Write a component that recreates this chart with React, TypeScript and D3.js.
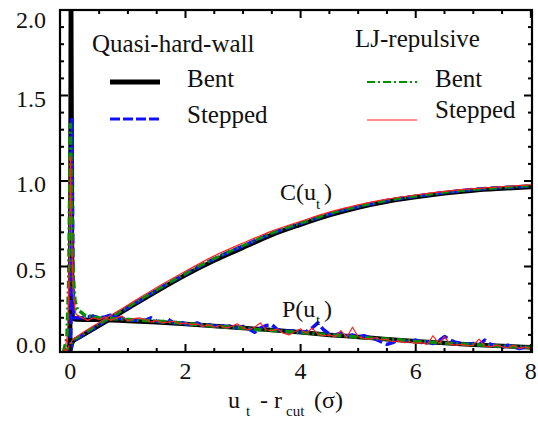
import React from 'react';
import * as d3 from 'd3';

const W = 538, H = 422;
const X0 = 60, X1 = 532, Y0 = 10, Y1 = 352;

// ---------- axis ticks ----------
const xMajorTicks = [0, 2, 4, 6, 8];
const yMajorTicks = [0, 0.5, 1.0, 1.5, 2.0];
const yTickLabels = ['0.0', '0.5', '1.0', '1.5', '2.0'];

// ---------- C(u_t) curves ----------
const blackCU = [-0.04, 0, 0.02, 0.05, 0.1, 0.5, 1, 1.5, 2, 2.5, 3, 3.5, 4, 4.5, 5, 5.5, 6, 6.5, 7, 7.5, 8];
const blackCV = [0, 0.01, 0.04, 0.065, 0.075, 0.155, 0.255, 0.355, 0.45, 0.535, 0.61, 0.685, 0.745, 0.8, 0.845, 0.88, 0.906, 0.928, 0.945, 0.956, 0.965];
const blueCU = [-0.01, 0, 0.02, 0.05, 0.1, 0.5, 1, 1.5, 2, 2.5, 3, 3.5, 4, 4.5, 5, 5.5, 6, 6.5, 7, 7.5, 8];
const blueCV = [0, 0.01, 0.04, 0.065, 0.075, 0.16, 0.26, 0.362, 0.457, 0.545, 0.62, 0.693, 0.752, 0.807, 0.851, 0.886, 0.911, 0.933, 0.95, 0.961, 0.97];
const greenCU = [-0.12, -0.04, 0, 0.05, 0.1, 0.5, 1, 1.5, 2, 2.5, 3, 3.5, 4, 4.5, 5, 5.5, 6, 6.5, 7, 7.5, 8];
const greenCV = [0, 0.02, 0.04, 0.07, 0.08, 0.163, 0.263, 0.363, 0.458, 0.547, 0.622, 0.695, 0.753, 0.808, 0.851, 0.886, 0.911, 0.933, 0.95, 0.961, 0.972];
const redCU = [-0.1, -0.03, 0, 0.05, 0.1, 0.5, 1, 1.5, 2, 2.5, 3, 3.5, 4, 4.5, 5, 5.5, 6, 6.5, 7, 7.5, 8];
const redCV = [0, 0.03, 0.05, 0.075, 0.087, 0.173, 0.275, 0.377, 0.472, 0.562, 0.637, 0.707, 0.764, 0.818, 0.86, 0.894, 0.918, 0.939, 0.955, 0.967, 0.978];

// ---------- P(u_t) curves ----------
const blackPU = [-0.03, -0.005, 0.012, 0.028, 0.04, 0.1, 0.5, 1, 1.5, 2, 2.5, 3, 3.5, 4, 4.5, 5, 5.5, 6, 6.5, 7, 7.5, 8];
const blackPV = [0, 0.1, 2.3, 0.5, 0.2, 0.19, 0.188, 0.182, 0.174, 0.164, 0.152, 0.14, 0.128, 0.115, 0.1, 0.088, 0.075, 0.063, 0.052, 0.043, 0.035, 0.028];

const greenPU = [-0.12, -0.06, -0.03, -0.01, 0, 0.02, 0.05, 0.08, 0.12, 0.25, 0.5, 0.75, 1, 1.25, 1.5, 1.75, 2, 2.25, 2.5, 2.75, 3, 3.25, 3.5, 3.75, 4, 4.25, 4.5, 4.75, 5, 5.25, 5.5, 5.75, 6, 6.25, 6.5, 6.75, 7, 7.25, 7.5, 7.75, 8];
const greenPV = [0, 0.08, 0.4, 1.0, 1.33, 0.9, 0.45, 0.3, 0.25, 0.215, 0.2, 0.195, 0.19, 0.185, 0.18, 0.176, 0.166, 0.16, 0.15, 0.146, 0.14, 0.131, 0.126, 0.12, 0.115, 0.106, 0.1, 0.096, 0.086, 0.08, 0.076, 0.07, 0.062, 0.058, 0.052, 0.047, 0.043, 0.038, 0.034, 0.03, 0.027];

const blueSpikeU = [0.0, 0.01, 0.02, 0.03, 0.04, 0.05, 0.07];
const blueSpikeV = [0, 0.2, 0.9, 1.37, 0.7, 0.25, 0.2];
const redSpikeU = [-0.1, -0.05, -0.02, 0, 0.02, 0.05, 0.08];
const redSpikeV = [0, 0.1, 0.5, 1.14, 0.7, 0.35, 0.25];

// noisy values on the 0.1 .. 8.0 grid
const bluePNoisy = [
  0.2, 0.2, 0.205, 0.21, 0.2, 0.205, 0.215, 0.2, 0.195, 0.19,
  0.185, 0.19, 0.185, 0.2, 0.18, 0.175, 0.19, 0.17, 0.175, 0.165,
  0.16, 0.17, 0.155, 0.16, 0.15, 0.16, 0.145, 0.155, 0.14, 0.15,
  0.135, 0.115, 0.14, 0.155, 0.16, 0.13, 0.125, 0.12, 0.125, 0.115,
  0.12, 0.14, 0.17, 0.13, 0.105, 0.1, 0.11, 0.095, 0.1, 0.09,
  0.095, 0.085, 0.075, 0.06, 0.045, 0.055, 0.07, 0.065, 0.06, 0.07,
  0.055, 0.06, 0.05, 0.065, 0.09, 0.07, 0.055, 0.05, 0.045, 0.05,
  0.04, 0.07, 0.045, 0.035, 0.025, 0.04, 0.03, 0.02, 0.03, 0.025,
];
const redPNoisy = [
  0.22, 0.2, 0.185, 0.2, 0.19, 0.205, 0.185, 0.2, 0.21, 0.18,
  0.195, 0.2, 0.19, 0.175, 0.185, 0.17, 0.175, 0.18, 0.165, 0.17,
  0.16, 0.165, 0.15, 0.16, 0.145, 0.155, 0.14, 0.15, 0.165, 0.14,
  0.13, 0.145, 0.17, 0.13, 0.125, 0.135, 0.11, 0.1, 0.12, 0.135,
  0.11, 0.14, 0.105, 0.095, 0.1, 0.09, 0.125, 0.085, 0.145, 0.09,
  0.08, 0.075, 0.085, 0.07, 0.075, 0.06, 0.065, 0.055, 0.06, 0.05,
  0.055, 0.045, 0.095, 0.05, 0.09, 0.045, 0.04, 0.045, 0.035, 0.04,
  0.075, 0.035, 0.03, 0.04, 0.03, 0.025, 0.04, 0.02, 0.03, 0.015,
];
const noisyGridU = d3.range(1, 81).map((i) => i / 10);

type Series = { u: number[]; v: number[]; color: string; width: number; dash?: string; curve: d3.CurveFactory };

type TProps = { x: number; y: number; size: number; anchor?: string; children: React.ReactNode };
function T({ x, y, size, anchor, children }: TProps) {
  return (
    <text className="serif-t" x={x} y={y} fontSize={size} textAnchor={anchor} fill="#111"
      fontFamily="Liberation Serif" style={{ fontFamily: '"Liberation Serif"' }}>
      {children}
    </text>
  );
}

export default function App() {
  const x = d3.scaleLinear().domain([-0.18, 8.02]).range([X0, X1]);
  const y = d3.scaleLinear().domain([0, 2]).range([Y1, Y0]);

  const mk = (u: number[], v: number[], curve: d3.CurveFactory) =>
    d3.line<number>().x((_, i) => x(u[i])).y((d) => y(d)).curve(curve)(v) || '';

  const black = '#000000', blue = '#1010ff', green = '#009000', red = '#ff2020';
  const blueDash = '10,4';
  const greenDash = '8,3,2,3';

  const series: Series[] = [
    { u: blackCU, v: blackCV, color: black, width: 4.5, curve: d3.curveMonotoneX },
    { u: blackPU, v: blackPV, color: black, width: 4.5, curve: d3.curveMonotoneX },
    { u: blueCU, v: blueCV, color: blue, width: 3.5, dash: blueDash, curve: d3.curveMonotoneX },
    { u: [...blueSpikeU, ...noisyGridU], v: [...blueSpikeV, ...bluePNoisy], color: blue, width: 3.5, dash: blueDash, curve: d3.curveLinear },
    { u: greenCU, v: greenCV, color: green, width: 2.8, dash: greenDash, curve: d3.curveMonotoneX },
    { u: greenPU, v: greenPV, color: green, width: 3.5, dash: greenDash, curve: d3.curveLinear },
    { u: redCU, v: redCV, color: red, width: 1.2, curve: d3.curveMonotoneX },
    { u: [...redSpikeU, ...noisyGridU], v: [...redSpikeV, ...redPNoisy], color: red, width: 1.2, curve: d3.curveLinear },
  ];

  const xMinor = d3.range(0, 8.001, 0.5);
  const yMinor = d3.range(0, 2.0001, 0.1);
  const isMajorX = (t: number) => xMajorTicks.some((m) => Math.abs(m - t) < 1e-6);
  const isMajorY = (t: number) => yMajorTicks.some((m) => Math.abs(m - t) < 1e-6);

  const legendItems = [
    { x1: 110, x2: 160, ly: 82, color: black, width: 5, dash: undefined as string | undefined, label: 'Bent', tx: 187, ty: 87 },
    { x1: 110, x2: 160, ly: 119, color: blue, width: 3, dash: '10,3', label: 'Stepped', tx: 187, ty: 123 },
    { x1: 367, x2: 417, ly: 82, color: green, width: 2, dash: '8,3,2,3', label: 'Bent', tx: 435, ty: 87 },
    { x1: 367, x2: 417, ly: 120, color: red, width: 1.2, dash: undefined, label: 'Stepped', tx: 435, ty: 118 },
  ];

  return (
    <svg width={W} height={H} style={{ position: 'absolute', left: 0, top: 0, background: '#fff' }}>
      <style>{'.serif-t { font-family: "Liberation Serif"; }'}</style>
      <defs>
        <clipPath id="plotclip">
          <rect x={X0} y={Y0} width={X1 - X0} height={Y1 - Y0} />
        </clipPath>
      </defs>
      <rect x={0} y={0} width={W} height={H} fill="#fff" />

      <g clipPath="url(#plotclip)">
        {series.map((s, i) => (
          <path key={i} d={mk(s.u, s.v, s.curve)} fill="none" stroke={s.color} strokeWidth={s.width}
            strokeDasharray={s.dash} strokeLinejoin="round" />
        ))}
      </g>

      {/* ticks */}
      <g stroke="#000" strokeWidth={2}>
        {xMinor.map((t, i) => {
          const len = isMajorX(t) ? 8 : 4;
          const px = x(t);
          return (
            <g key={'xt' + i}>
              <line x1={px} x2={px} y1={Y1} y2={Y1 - len} />
              <line x1={px} x2={px} y1={Y0} y2={Y0 + len} />
            </g>
          );
        })}
        {yMinor.map((t, i) => {
          const len = isMajorY(t) ? 8 : 4;
          const py = y(t);
          return (
            <g key={'yt' + i}>
              <line x1={X0} x2={X0 + len} y1={py} y2={py} />
              <line x1={X1} x2={X1 - len} y1={py} y2={py} />
            </g>
          );
        })}
      </g>
      <rect x={X0} y={Y0} width={X1 - X0} height={Y1 - Y0} fill="none" stroke="#000" strokeWidth={2.2} />

      {/* tick labels */}
      {xMajorTicks.map((t) => (
        <T key={'xl' + t} x={x(t)} y={379} size={24} anchor="middle">{String(t)}</T>
      ))}
      {yMajorTicks.map((t, i) => (
        <T key={'yl' + t} x={46} y={Math.min(Math.max(y(t) + 11, 28), 353)} size={24} anchor="end">{yTickLabels[i]}</T>
      ))}

      {/* x axis title */}
      <T x={228} y={408} size={24}>u</T>
      <T x={246} y={416} size={15}>t</T>
      <T x={260} y={408} size={24}>-</T>
      <T x={274} y={408} size={24}>r</T>
      <T x={286} y={416} size={15}>cut</T>
      <T x={314} y={408} size={24}>(σ)</T>

      {/* curve labels */}
      <T x={280} y={200} size={24}>C(u</T>
      <T x={316} y={209} size={15}>t</T>
      <T x={324} y={200} size={24}>)</T>
      <T x={282} y={317} size={24}>P(u</T>
      <T x={316} y={325} size={15}>t</T>
      <T x={324} y={317} size={24}>)</T>

      {/* legend */}
      <T x={92} y={52} size={25}>Quasi-hard-wall</T>
      <T x={355} y={47} size={25}>LJ-repulsive</T>
      {legendItems.map((l, i) => (
        <g key={'lg' + i}>
          <line x1={l.x1} x2={l.x2} y1={l.ly} y2={l.ly} stroke={l.color} strokeWidth={l.width} strokeDasharray={l.dash} />
          <T x={l.tx} y={l.ty} size={25}>{l.label}</T>
        </g>
      ))}
    </svg>
  );
}
